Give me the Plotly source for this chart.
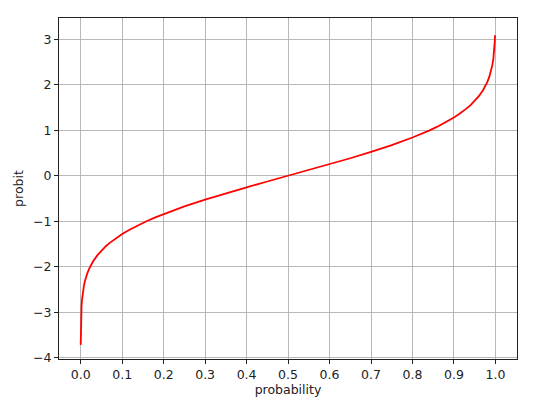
import plotly.graph_objects as go

probability = [0.0001, 0.0002, 0.0003, 0.0005, 0.0007, 0.001, 0.0015, 0.002, 0.003,
               0.004, 0.005, 0.0075, 0.01, 0.0125, 0.015, 0.02, 0.025, 0.03, 0.04,
               0.05, 0.06, 0.07, 0.08, 0.09, 0.1, 0.12, 0.14, 0.16, 0.18, 0.2, 0.25,
               0.3, 0.35, 0.4, 0.45, 0.5, 0.55, 0.6, 0.65, 0.7, 0.75, 0.8, 0.82,
               0.84, 0.86, 0.88, 0.9, 0.91, 0.92, 0.93, 0.94, 0.95, 0.96, 0.97,
               0.975, 0.98, 0.985, 0.9875, 0.99, 0.9925, 0.995, 0.996, 0.997,
               0.998, 0.9985, 0.999]
probit = [-3.719, -3.540, -3.432, -3.291, -3.195, -3.090, -2.968, -2.878, -2.748,
          -2.652, -2.576, -2.432, -2.326, -2.241, -2.170, -2.054, -1.960, -1.881, -1.751,
          -1.645, -1.555, -1.476, -1.405, -1.341, -1.282, -1.175, -1.080, -0.994, -0.915,
          -0.842, -0.674, -0.524, -0.385, -0.253, -0.126, 0.0, 0.126, 0.253, 0.385,
          0.524, 0.674, 0.842, 0.915, 0.994, 1.080, 1.175, 1.282, 1.341, 1.405,
          1.476, 1.555, 1.645, 1.751, 1.881, 1.960, 2.054, 2.170, 2.241, 2.326,
          2.432, 2.576, 2.652, 2.748, 2.878, 2.968, 3.090]
x_ticks = [0.0, 0.1, 0.2, 0.3, 0.4, 0.5, 0.6, 0.7, 0.8, 0.9, 1.0]
y_ticks = [-4, -3, -2, -1, 0, 1, 2, 3]

fig = go.Figure()
fig.add_trace(go.Scatter(x=probability, y=probit, mode="lines",
                         line=dict(color="red", width=1.8),
                         showlegend=False, hoverinfo="skip"))

font = dict(family="DejaVu Sans", size=12.5, color="#222")
axis_common = dict(
    showline=True, linecolor="#222", linewidth=1.1, mirror=True,
    ticks="outside", ticklen=4, tickcolor="#222", tickwidth=1,
    showgrid=True, gridcolor="#b0b0b0", gridwidth=0.9,
    zeroline=False, automargin=False,
    tickfont=font,
)
fig.update_xaxes(range=[-0.0523, 1.052], tickvals=x_ticks,
                 ticktext=[f"{v:.1f}" for v in x_ticks],
                 title=dict(text="probability", standoff=4, font=font),
                 **axis_common)
fig.update_yaxes(range=[-4.03, 3.47], tickvals=y_ticks,
                 title=dict(text="probit", standoff=6, font=font),
                 **axis_common)
fig.update_layout(width=540, height=404, margin=dict(l=59, r=23, t=18, b=45),
                  paper_bgcolor="white", plot_bgcolor="white")
fig.write_html("out.html", config={"displayModeBar": False, "staticPlot": True},
               post_script="document.body.style.margin='0';document.body.style.overflow='hidden';")
